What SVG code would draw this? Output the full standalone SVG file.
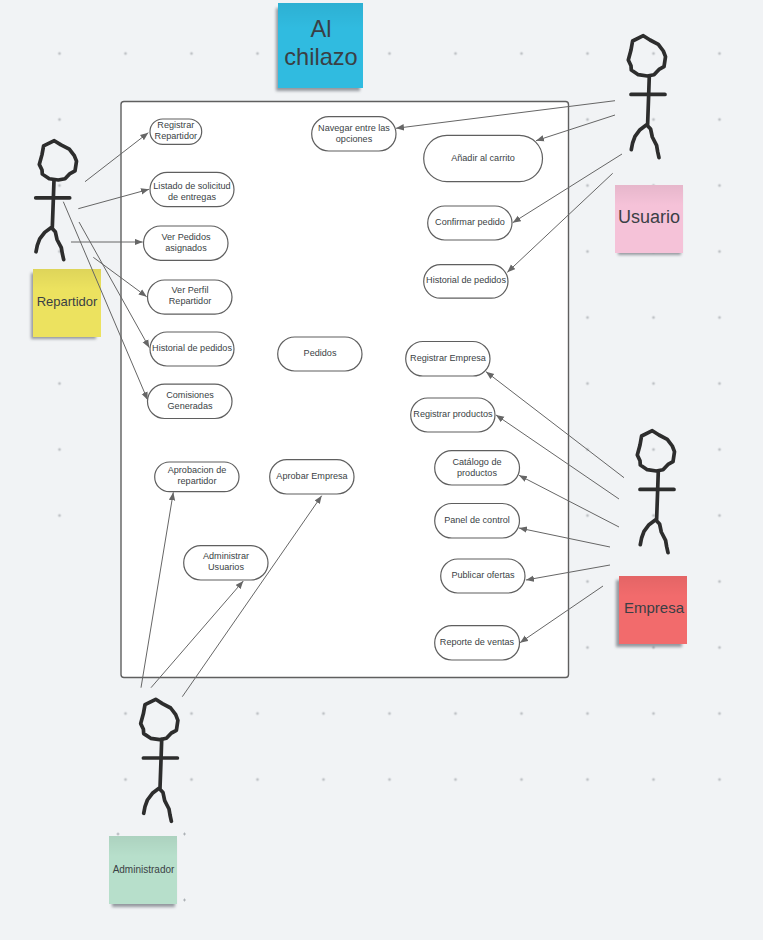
<svg xmlns="http://www.w3.org/2000/svg" xmlns:xlink="http://www.w3.org/1999/xlink" width="763" height="940" viewBox="0 0 763 940">
<style>
text{font-family:"Liberation Sans",Arial,sans-serif;fill:#3a3f45;text-anchor:middle}
.n text{font-size:9.1px}
.n rect{fill:#fff;stroke:#5f5f5f;stroke-width:1.2}
.s rect.b{stroke:none}
.sh{fill:#4a4f5a;opacity:.55;filter:url(#blur)}
.g{fill:url(#shade)}
#connectors line{stroke:#666;stroke-width:1;marker-end:url(#arrow)}
.fig{fill:none;stroke:#2d2d2d;stroke-width:3.7;stroke-linecap:round;stroke-linejoin:round}
</style>
<defs>
<filter id="blur" x="-20%" y="-20%" width="140%" height="140%"><feGaussianBlur stdDeviation="1.6"/></filter>
<linearGradient id="shade" x1="0" y1="0" x2="0" y2="1"><stop offset="0" stop-color="#000" stop-opacity=".06"/><stop offset=".3" stop-color="#000" stop-opacity="0"/></linearGradient>
<marker id="arrow" markerUnits="userSpaceOnUse" markerWidth="9" markerHeight="8" refX="8" refY="3.5" orient="auto"><path d="M0,0.3L8,3.5L0,6.7z" fill="#666"/></marker>
<pattern id="grid" patternUnits="userSpaceOnUse" x="26.5" y="20.5" width="66" height="66"><path d="M33,31.5v3M31.5,33h3" stroke="#a4a8ad" stroke-width=".8" fill="none"/></pattern>
<path id="head" class="fig" d="M0,0L-10.7,5.3L-12.3,14.3L-15,24.3L-12.3,30L-12,34.3L-5,39L4,40.3L10.7,39L15.7,33.7L20.7,31L22.2,21L20,15.3L15,8.7L6.7,4.3Z"/>
<path id="body" class="fig" d="M6,40.3L5.3,61L4.3,89M-12.3,58.7H21.7M3.3,89L-3.3,94L-8.3,100.7L-10.7,107.3L-12,114M3.3,89L7.3,93.3L9,101.3L13.3,109.7L14.3,115.7L15.7,122"/>
</defs>
<rect width="763" height="940" fill="#f1f3f5"/>
<g id="grid-marks">
<rect x="70" y="45" width="505" height="16" fill="url(#grid)"/>
<rect x="50" y="45" width="20" height="480" fill="url(#grid)"/>
<rect x="575" y="45" width="188" height="610" fill="url(#grid)"/>
<rect x="115" y="705" width="648" height="80" fill="url(#grid)"/>
<path d="M118,832.5v3M116.5,834h3M184.5,832.5v3M183,834h3M184.5,898.5v3M183,900h3" stroke="#a4a8ad" stroke-width=".8" fill="none"/>
</g>
<g id="board"><rect x="121" y="101.5" width="447.5" height="576" rx="3" fill="#fff" stroke="#5f5f5f" stroke-width="1.4"/></g>
<g id="sticky-title" class="s"><rect class="sh" x="276" y="8" width="84" height="83"/><rect class="b" x="278" y="3" width="85" height="85" fill="#30bbe0"/><rect class="g" x="278" y="3" width="85" height="85"/><text x="321" y="36.5" font-size="23.6px">Al</text><text x="321" y="64.5" font-size="23.6px">chilazo</text></g>
<g id="actor-usuario"><use xlink:href="#head" href="#head" x="643.3" y="35.7"/><use xlink:href="#body" href="#body" x="643.3" y="35.7"/><g class="s"><rect class="sh" x="618" y="189" width="63" height="66"/><rect class="b" x="615" y="185" width="68" height="68" fill="#f5c2d8"/><rect class="g" x="615" y="185" width="68" height="68"/><text x="649" y="222.5" font-size="18px">Usuario</text></g></g>
<g id="actor-repartidor"><use xlink:href="#head" href="#head" x="54.3" y="140.7" transform="translate(0,3.5) scale(1,.975)"/><use xlink:href="#body" href="#body" x="48" y="140.7" transform="translate(0,3.5) scale(1,.975)"/><g class="s"><rect class="sh" x="31" y="273" width="65" height="66"/><rect class="b" x="33" y="269" width="68" height="68" fill="#ece25f"/><rect class="g" x="33" y="269" width="68" height="68"/><text x="67" y="306.3" font-size="13px">Repartidor</text></g></g>
<g id="actor-empresa"><use xlink:href="#head" href="#head" x="652.3" y="430.7"/><use xlink:href="#body" href="#body" x="652.3" y="430.7"/><g class="s"><rect class="sh" x="616" y="580" width="66" height="67"/><rect class="b" x="619" y="576" width="68" height="68" fill="#f26b6c"/><rect class="g" x="619" y="576" width="68" height="68"/><text x="654" y="613.3" font-size="15px">Empresa</text></g></g>
<g id="actor-administrador"><use xlink:href="#head" href="#head" x="155.7" y="699.3"/><use xlink:href="#body" href="#body" x="155.7" y="699.3"/><g class="s"><rect class="sh" x="112" y="840" width="63" height="67"/><rect class="b" x="109" y="836" width="68" height="68" fill="#b7dfcb"/><rect class="g" x="109" y="836" width="68" height="68"/><text x="143.5" y="872.8" font-size="10px">Administrador</text></g></g>
<g id="uc-registrar-repartidor" class="n"><rect x="150" y="119" width="51.7" height="25.3" rx="12.6"/><text x="175.8" y="128">Registrar</text><text x="175.8" y="138.7">Repartidor</text></g>
<g id="uc-listado" class="n"><rect x="150" y="172.3" width="84" height="34.4" rx="17.2"/><text x="192" y="188.6">Listado de solicitud</text><text x="192" y="199.5">de entregas</text></g>
<g id="uc-ver-pedidos" class="n"><rect x="143.5" y="226" width="84.5" height="34.3" rx="17.1"/><text x="186" y="239.6">Ver Pedidos</text><text x="186" y="250.5">asignados</text></g>
<g id="uc-ver-perfil" class="n"><rect x="147.5" y="280" width="84.5" height="34.2" rx="17.1"/><text x="190" y="293.3">Ver Perfil</text><text x="190" y="304.2">Repartidor</text></g>
<g id="uc-historial-rep" class="n"><rect x="150" y="332" width="84" height="34" rx="17"/><text x="192" y="350.6">Historial de pedidos</text></g>
<g id="uc-comisiones" class="n"><rect x="147.5" y="384.2" width="84.5" height="34.3" rx="17.1"/><text x="190" y="397.6">Comisiones</text><text x="190" y="408.5">Generadas</text></g>
<g id="uc-pedidos" class="n"><rect x="277.7" y="337" width="84.3" height="34" rx="17"/><text x="320" y="355.6">Pedidos</text></g>
<g id="uc-aprobacion" class="n"><rect x="154.7" y="462" width="84.3" height="29.7" rx="14.8"/><text x="197" y="472.6">Aprobacion de</text><text x="197" y="483.5">repartidor</text></g>
<g id="uc-aprobar-empresa" class="n"><rect x="269.7" y="459.7" width="84.3" height="34.3" rx="17.1"/><text x="312" y="478.6">Aprobar Empresa</text></g>
<g id="uc-administrar" class="n"><rect x="183.7" y="545.7" width="84.3" height="34.3" rx="17.1"/><text x="226" y="559.3">Administrar</text><text x="226" y="570.2">Usuarios</text></g>
<g id="uc-navegar" class="n"><rect x="311.7" y="116.7" width="84.3" height="34.3" rx="17.1"/><text x="354" y="130.9">Navegar entre las</text><text x="354" y="141.8">opciones</text></g>
<g id="uc-anadir" class="n"><rect x="423.7" y="135.3" width="118.8" height="46.4" rx="23.2"/><text x="483" y="160.8">Añadir al carrito</text></g>
<g id="uc-confirmar" class="n"><rect x="427.7" y="206" width="84.3" height="34" rx="17"/><text x="470" y="224.6">Confirmar pedido</text></g>
<g id="uc-historial-usu" class="n"><rect x="423.7" y="264.7" width="84.3" height="33.5" rx="16.7"/><text x="466" y="283">Historial de pedidos</text></g>
<g id="uc-registrar-empresa" class="n"><rect x="405.7" y="341.5" width="84.3" height="34.5" rx="17.2"/><text x="448" y="360.6">Registrar Empresa</text></g>
<g id="uc-registrar-productos" class="n"><rect x="410.7" y="398" width="84.3" height="34" rx="17"/><text x="453" y="416.9">Registrar productos</text></g>
<g id="uc-catalogo" class="n"><rect x="434.7" y="450.7" width="84.8" height="34.3" rx="17.1"/><text x="477" y="464.6">Catálogo de</text><text x="477" y="475.7">productos</text></g>
<g id="uc-panel" class="n"><rect x="434.7" y="503.5" width="84.8" height="34.5" rx="17.2"/><text x="477" y="522.8">Panel de control</text></g>
<g id="uc-publicar" class="n"><rect x="440.7" y="559" width="84.3" height="34" rx="17"/><text x="483" y="578">Publicar ofertas</text></g>
<g id="uc-reporte" class="n"><rect x="434.7" y="625.7" width="84.8" height="34.3" rx="17.1"/><text x="477" y="644.7">Reporte de ventas</text></g>
<g id="connectors">
<line x1="85" y1="181.7" x2="148.3" y2="132.7"/>
<line x1="78.3" y1="208.7" x2="149" y2="189.3"/>
<line x1="71" y1="242" x2="142.7" y2="242"/>
<line x1="93.3" y1="257.3" x2="146.7" y2="296.7"/>
<line x1="79" y1="222" x2="149.3" y2="347.7"/>
<line x1="63.3" y1="201.7" x2="147.7" y2="400"/>
<line x1="615" y1="100.7" x2="396" y2="128.3"/>
<line x1="615" y1="115" x2="536" y2="140.7"/>
<line x1="622" y1="154" x2="512.7" y2="222.7"/>
<line x1="612.7" y1="173.3" x2="507.3" y2="272.3"/>
<line x1="624" y1="477.7" x2="486" y2="371.7"/>
<line x1="619" y1="499" x2="496" y2="415"/>
<line x1="619" y1="527" x2="519" y2="475.3"/>
<line x1="610" y1="547" x2="519" y2="528"/>
<line x1="610" y1="565" x2="526" y2="580"/>
<line x1="603" y1="586" x2="520" y2="642.7"/>
<line x1="141" y1="687.7" x2="173.3" y2="492.3"/>
<line x1="151" y1="687.7" x2="243.3" y2="581"/>
<line x1="182.3" y1="696.7" x2="321.7" y2="495.7"/>
</g>
</svg>
